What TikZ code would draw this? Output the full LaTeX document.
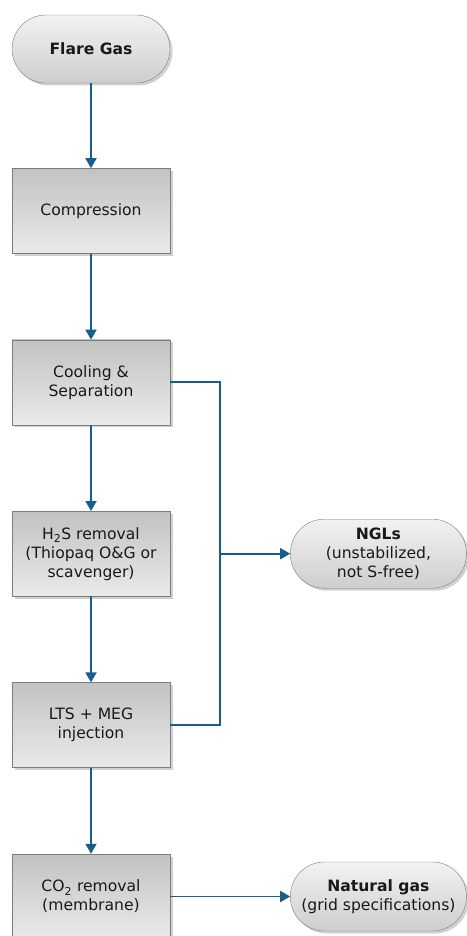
\documentclass[tikz,border=0pt]{standalone}
\usepackage{fontspec}
\setmainfont{DejaVu Sans}
\usepackage{tikz}
\usetikzlibrary{arrows.meta, positioning, calc, shadows}
\definecolor{flowblue}{RGB}{22,94,140}
\definecolor{boxtop}{RGB}{194,194,194}
\definecolor{boxbot}{RGB}{234,234,234}
\definecolor{termtop}{RGB}{242,242,242}
\definecolor{termbot}{RGB}{206,206,206}
\definecolor{edgegray}{RGB}{125,125,125}
\definecolor{textdark}{RGB}{25,25,25}

\begin{document}
\begin{tikzpicture}[
    x=1pt, y=1pt,
    node distance = 86pt and 120pt,
    every node/.style = {font=\fontsize{15.6}{19}\selectfont, text=textdark},
    procbox/.style    = {draw=edgegray, top color=boxtop, bottom color=boxbot,
                         minimum width=158pt, minimum height=85pt, align=center,
                         drop shadow={shadow xshift=2.5pt, shadow yshift=-2.5pt,
                                      fill=black, opacity=0.18}},
    termbox/.style    = {draw=edgegray, rounded corners=34pt,
                         top color=termtop, bottom color=termbot,
                         minimum width=158pt, minimum height=68pt, align=center,
                         drop shadow={shadow xshift=2.5pt, shadow yshift=-2.5pt,
                                      fill=black, opacity=0.18}},
    arr/.style        = {-{Triangle[length=10pt, width=11pt]}, flowblue, line width=1.8pt},
    flowline/.style   = {flowblue, line width=1.8pt},
]
\useasboundingbox (0,0) rectangle (466,-936);

% Main process column
\node[termbox] (flare) at (91,-49) {\textbf{Flare Gas}};
\node[procbox, below=85pt of flare] (comp) {Compression};
\node[procbox, below=of comp] (cool) {Cooling \&\\Separation};
\node[procbox, below=of cool] (hts) {H\textsubscript{2}S removal\\(Thiopaq O\&G or\\scavenger)};
\node[procbox, below=of hts] (lts) {LTS + MEG\\injection};
\node[procbox, below=of lts] (co2) {CO\textsubscript{2} removal\\(membrane)};

% Products
\node[termbox, right=of hts, minimum width=176pt, minimum height=69pt] (ngl)
    {\textbf{NGLs}\\(unstabilized,\\not S-free)};
\node[termbox, right=of co2, minimum width=176pt, minimum height=69pt] (gas)
    {\textbf{Natural gas}\\(grid specifications)};

% Main flow
\draw[arr] (flare) -- (comp);
\draw[arr] (comp) -- (cool);
\draw[arr] (cool) -- (hts);
\draw[arr] (hts) -- (lts);
\draw[arr] (lts) -- (co2);
\draw[arr] (co2) -- (gas);

% Liquids collector
\coordinate[right=50pt of cool.east] (bus);
\draw[flowline] (cool.east) -- (bus) |- (lts.east);
\draw[arr] (bus |- ngl.west) -- (ngl.west);

\end{tikzpicture}
\end{document}
